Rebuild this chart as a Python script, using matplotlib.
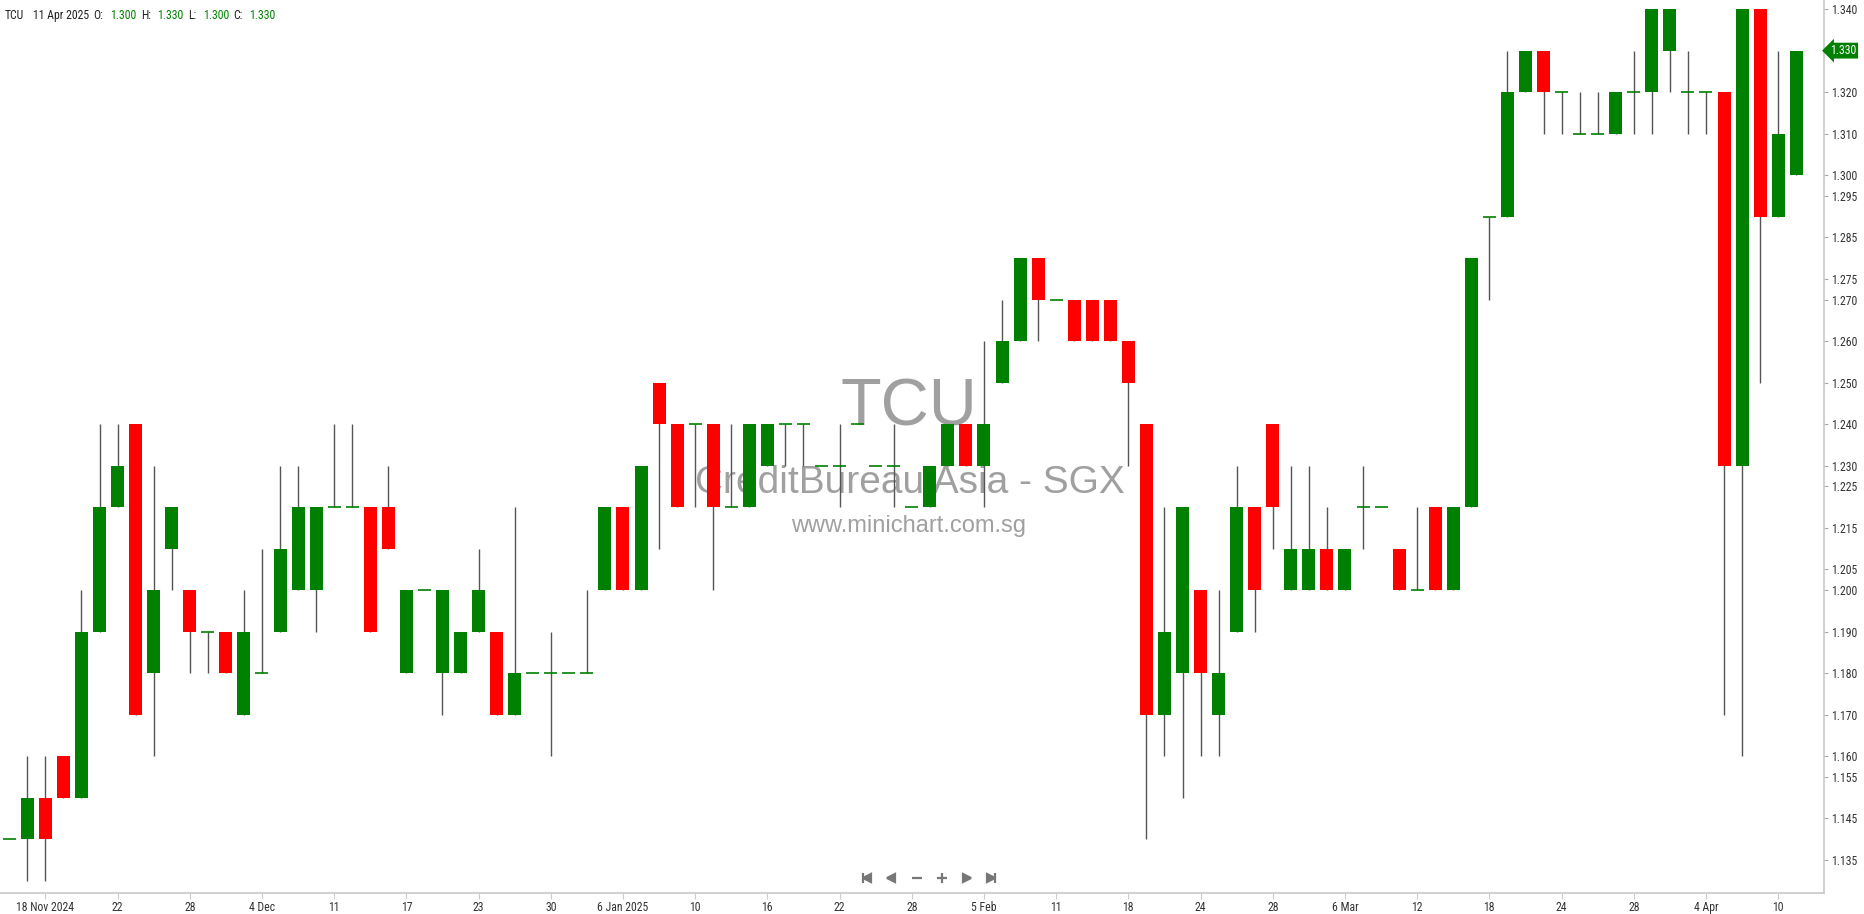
import numpy as np
import matplotlib.pyplot as plt
import matplotlib.transforms as mtransforms
from matplotlib import font_manager
from matplotlib.lines import Line2D

# daily OHLC, 14 Nov 2024 .. 11 Apr 2025 (trading days only)
opens = [1.14, 1.14, 1.15, 1.16, 1.15, 1.19, 1.22, 1.24, 1.18, 1.21,
         1.20, 1.19, 1.19, 1.17, 1.18, 1.19, 1.20, 1.20, 1.22, 1.22,
         1.22, 1.22, 1.18, 1.20, 1.18, 1.18, 1.19, 1.19, 1.17, 1.18,
         1.18, 1.18, 1.18, 1.20, 1.22, 1.20, 1.25, 1.24, 1.24, 1.24,
         1.22, 1.22, 1.23, 1.24, 1.24, 1.23, 1.23, 1.24, 1.23, 1.23,
         1.22, 1.22, 1.23, 1.24, 1.23, 1.25, 1.26, 1.28, 1.27, 1.27,
         1.27, 1.27, 1.26, 1.24, 1.17, 1.18, 1.20, 1.17, 1.19, 1.22,
         1.24, 1.20, 1.20, 1.21, 1.20, 1.22, 1.22, 1.21, 1.20, 1.22,
         1.20, 1.22, 1.29, 1.29, 1.32, 1.33, 1.32, 1.31, 1.31, 1.31,
         1.32, 1.32, 1.33, 1.32, 1.32, 1.32, 1.23, 1.34, 1.29, 1.30]
highs = [1.14, 1.16, 1.16, 1.16, 1.20, 1.24, 1.24, 1.24, 1.23, 1.22,
         1.20, 1.19, 1.19, 1.20, 1.21, 1.23, 1.23, 1.22, 1.24, 1.24,
         1.22, 1.23, 1.20, 1.20, 1.20, 1.19, 1.21, 1.19, 1.22, 1.18,
         1.19, 1.18, 1.20, 1.22, 1.22, 1.23, 1.25, 1.24, 1.24, 1.24,
         1.24, 1.24, 1.24, 1.24, 1.24, 1.23, 1.24, 1.24, 1.23, 1.24,
         1.22, 1.23, 1.24, 1.24, 1.26, 1.27, 1.28, 1.28, 1.27, 1.27,
         1.27, 1.27, 1.26, 1.24, 1.22, 1.22, 1.20, 1.20, 1.23, 1.22,
         1.24, 1.23, 1.23, 1.22, 1.21, 1.23, 1.22, 1.21, 1.22, 1.22,
         1.22, 1.28, 1.29, 1.33, 1.33, 1.33, 1.32, 1.32, 1.32, 1.32,
         1.33, 1.34, 1.34, 1.33, 1.32, 1.32, 1.34, 1.34, 1.33, 1.33]
lows = [1.14, 1.13, 1.13, 1.15, 1.15, 1.19, 1.22, 1.17, 1.16, 1.20,
        1.18, 1.18, 1.18, 1.17, 1.18, 1.19, 1.20, 1.19, 1.22, 1.22,
        1.19, 1.21, 1.18, 1.20, 1.17, 1.18, 1.19, 1.17, 1.17, 1.18,
        1.16, 1.18, 1.18, 1.20, 1.20, 1.20, 1.21, 1.22, 1.22, 1.20,
        1.22, 1.22, 1.23, 1.23, 1.23, 1.23, 1.22, 1.24, 1.23, 1.22,
        1.22, 1.22, 1.23, 1.23, 1.22, 1.25, 1.26, 1.26, 1.27, 1.26,
        1.26, 1.26, 1.23, 1.14, 1.16, 1.15, 1.16, 1.16, 1.19, 1.19,
        1.21, 1.20, 1.20, 1.20, 1.20, 1.21, 1.22, 1.20, 1.20, 1.20,
        1.20, 1.22, 1.27, 1.29, 1.32, 1.31, 1.31, 1.31, 1.31, 1.31,
        1.31, 1.31, 1.32, 1.31, 1.31, 1.17, 1.16, 1.25, 1.29, 1.30]
closes = [1.14, 1.15, 1.14, 1.15, 1.19, 1.22, 1.23, 1.17, 1.20, 1.22,
          1.19, 1.19, 1.18, 1.19, 1.18, 1.21, 1.22, 1.22, 1.22, 1.22,
          1.19, 1.21, 1.20, 1.20, 1.20, 1.19, 1.20, 1.17, 1.18, 1.18,
          1.18, 1.18, 1.18, 1.22, 1.20, 1.23, 1.24, 1.22, 1.24, 1.22,
          1.22, 1.24, 1.24, 1.24, 1.24, 1.23, 1.23, 1.24, 1.23, 1.23,
          1.22, 1.23, 1.24, 1.23, 1.24, 1.26, 1.28, 1.27, 1.27, 1.26,
          1.26, 1.26, 1.25, 1.17, 1.19, 1.22, 1.18, 1.18, 1.22, 1.20,
          1.22, 1.21, 1.21, 1.20, 1.21, 1.22, 1.22, 1.20, 1.20, 1.20,
          1.22, 1.28, 1.29, 1.32, 1.33, 1.32, 1.32, 1.31, 1.31, 1.32,
          1.32, 1.34, 1.34, 1.32, 1.32, 1.23, 1.34, 1.29, 1.31, 1.33]

date_ticks = list(range(2, 99, 4))
date_labels = ['18 Nov 2024', '22', '28', '4 Dec', '11', '17', '23', '30',
               '6 Jan 2025', '10', '16', '22', '28', '5 Feb', '11', '18',
               '24', '28', '6 Mar', '12', '18', '24', '28', '4 Apr', '10']
price_ticks = [1.340, 1.320, 1.310, 1.300, 1.295, 1.285, 1.275, 1.270,
               1.260, 1.250, 1.240, 1.230, 1.225, 1.215, 1.205, 1.200,
               1.190, 1.180, 1.170, 1.160, 1.155, 1.145, 1.135]
symbol = 'TCU'
last_date = '11 Apr 2025'

GREEN = '#008000'
RED = '#ff0000'
W, H = 1864, 914


# pick a narrow font if one is there, else plain Liberation Sans a bit smaller
def pick_font():
    for name, size in [('Liberation Sans Narrow', 8.5), ('DejaVu Sans Condensed', 7.8),
                       ('Roboto Condensed', 8.5), ('Liberation Sans', 7.6)]:
        try:
            font_manager.findfont(name, fallback_to_default=False)
            return name, size
        except ValueError:
            pass
    return 'DejaVu Sans', 7.0


small, fs = pick_font()

o = np.array(opens)
h = np.array(highs)
l = np.array(lows)
c = np.array(closes)
x = np.arange(len(o))

fig = plt.figure(figsize=(W / 100, H / 100), dpi=100)
ax = fig.add_axes([0, 21 / H, 1824 / W, 893 / H])

# wicks, bodies, and flat (doji) days
ax.vlines(x, l, h, color='#555555', lw=1.0, zorder=2)
body = c != o
col = np.where(c > o, GREEN, RED)
ax.bar(x[body], np.abs(c - o)[body], bottom=np.minimum(o, c)[body],
       width=0.72, color=col[body], linewidth=0, zorder=3)
ax.hlines(o[~body], x[~body] - 0.36, x[~body] + 0.36, color=GREEN, lw=1.2, zorder=3)

ax.set_xlim(-0.515, 100.54)
ax.set_ylim(1.1270, 1.3422)

for s in ['left', 'top']:
    ax.spines[s].set_visible(False)
for s in ['right', 'bottom']:
    ax.spines[s].set_color('#c8c8c8')
    ax.spines[s].set_linewidth(1.2)

ax.yaxis.tick_right()
ax.set_yticks(price_ticks)
ax.set_yticklabels([f'{p:.3f}' for p in price_ticks], family=small, fontsize=fs, color='#333333')
ax.tick_params(axis='y', length=3, width=0.8, color='#aaaaaa', pad=2)
ax.set_xticks(date_ticks)
ax.set_xticklabels(date_labels, family=small, fontsize=fs, color='#333333')
ax.tick_params(axis='x', length=4, width=0.8, color='#cccccc', pad=2)

# watermark
wm = '#a0a0a0'
fig.text(909 / W, 1 - 425 / H, symbol, ha='center', va='baseline', fontsize=48,
         family='Liberation Sans', color=wm, zorder=0)
fig.text(910 / W, 1 - 493 / H, 'CreditBureau Asia - SGX', ha='center', va='baseline',
         fontsize=28, family='Liberation Sans', color=wm, zorder=0)
fig.text(909 / W, 1 - 532 / H, 'www.minichart.com.sg', ha='center', va='baseline',
         fontsize=17, family='Liberation Sans', color=wm, zorder=0)
ax.set_zorder(1)
ax.patch.set_alpha(0)

# header line
parts = [(5, symbol, '#222222'), (33, last_date, '#222222'),
         (93, 'O:', '#222222'), (110, f'{o[-1]:.3f}', GREEN),
         (141, 'H:', '#222222'), (157, f'{h[-1]:.3f}', GREEN),
         (188, 'L:', '#222222'), (203, f'{l[-1]:.3f}', GREEN),
         (233, 'C:', '#222222'), (249, f'{c[-1]:.3f}', GREEN)]
for px, txt, cl in parts:
    fig.text(px / W, 1 - 15.5 / H, txt, ha='left', va='center', family=small,
             fontsize=fs, color=cl)

# last price tag on the axis
trans = mtransforms.blended_transform_factory(ax.transAxes, ax.transData)
ax.text(1.0035, c[-1], f'{c[-1]:.3f}', transform=trans, ha='left', va='center',
        family=small, fontsize=fs, color='white', clip_on=False, zorder=5,
        bbox=dict(boxstyle='larrow,pad=0.12', fc=GREEN, ec='none'))

# navigation buttons
nav_y = 1 - 878 / H
for px, mk, ms in [(863, '|', 7), (867, '<', 6), (891, '<', 6), (917, '_', 7),
                   (942, '+', 7), (967, '>', 6), (991, '>', 6), (995, '|', 7)]:
    fig.add_artist(Line2D([px / W], [nav_y], marker=mk, markersize=ms, color='#777777',
                          markeredgewidth=1.6, linestyle='none', transform=fig.transFigure))

fig.savefig('out.png', dpi=100, facecolor='white')
